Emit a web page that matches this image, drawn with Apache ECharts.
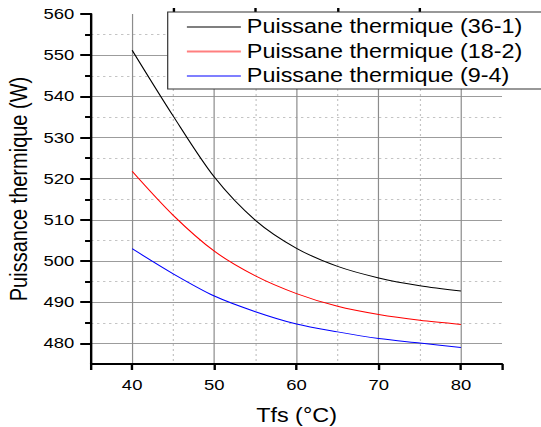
<!DOCTYPE html>
<html>
<head>
<meta charset="utf-8">
<script src="https://cdn.jsdelivr.net/npm/echarts@6/dist/echarts.min.js"></script>
<style>
  html, body { margin: 0; padding: 0; background: #fff; overflow: hidden; }
  /* the figure is drawn narrower and widened horizontally */
  #chart { width: 451px; height: 427px; transform: scaleX(1.19956); transform-origin: 0 0; }
</style>
</head>
<body>
<div id="chart"></div>
<script>
// Fluid temperature (°C)
const tfs = [40, 45, 50, 55, 60, 65, 70, 75, 80];
// Thermal power (W) for each configuration
const p36_1 = [551.2, 535.2, 520.4, 509.9, 503.1, 498.7, 495.9, 494.0, 492.7];
const p18_2 = [521.8, 511.1, 502.4, 496.4, 492.1, 489.0, 487.0, 485.6, 484.6];
const p9_4  = [503.0, 496.9, 491.5, 487.7, 484.7, 482.8, 481.2, 480.1, 479.0];
const seriesNames = ['Puissane thermique (36-1)', 'Puissane thermique (18-2)', 'Puissane thermique (9-4)'];
const seriesColors = ['#000000', '#ff0000', '#0000ff'];

// Tick positions
const xMajor = [35, 40, 50, 60, 70, 80, 85];
const xMinor = [45, 55, 65, 75];
const xLabels = [40, 50, 60, 70, 80];
const yMajor = [480, 490, 500, 510, 520, 530, 540, 550, 560];
const yMinor = [485, 495, 505, 515, 525, 535, 545, 555];

const FONT = '"Liberation Sans", Arial, sans-serif';

const chart = echarts.init(document.getElementById('chart'), null, { renderer: 'svg' });

const xBase = { type: 'value', min: 35, max: 85, gridIndex: 0 };
const yBase = { type: 'value', min: 475, max: 560, gridIndex: 0 };

chart.setOption({
  animation: false,
  backgroundColor: '#ffffff',
  textStyle: { fontFamily: FONT },
  grid: { left: 75.9, right: 32.5, top: 14, bottom: 63, containLabel: false, outerBoundsMode: 'none' },
  legend: {
    orient: 'vertical',
    left: 139.8,
    top: 12,
    padding: [5, 24, 3, 16],
    itemGap: 4.5,
    itemWidth: 45,
    itemHeight: 2,
    icon: 'rect',
    itemStyle: { opacity: 0.5 },
    backgroundColor: '#ffffff',
    borderColor: '#333333',
    borderWidth: 1,
    textStyle: { fontFamily: FONT, fontSize: 19.5, color: '#000' },
    data: seriesNames
  },
  xAxis: [
    Object.assign({}, xBase, {
      name: 'Tfs (°C)',
      nameLocation: 'middle',
      nameGap: 42,
      nameTextStyle: { fontFamily: FONT, fontSize: 19.5, color: '#000' },
      axisLine: { show: true, onZero: false, lineStyle: { color: '#000', width: 2 } },
      axisTick: { show: true, length: 6, lineStyle: { color: '#000', width: 2 }, customValues: xMajor },
      axisLabel: { show: true, margin: 14, fontFamily: FONT, fontSize: 15.4, color: '#000', customValues: xLabels },
      splitLine: { show: true, showMinLine: false, showMaxLine: false, lineStyle: { color: '#8c8c8c', width: 1 } }
    }),
    Object.assign({}, xBase, {
      axisLine: { show: false, onZero: false },
      axisTick: { show: true, length: 6, lineStyle: { color: '#000', width: 2 }, customValues: xMinor },
      axisLabel: { show: false },
      splitLine: { show: true, lineStyle: { color: '#c4c4c4', width: 1, type: [2, 3] } }
    })
  ],
  yAxis: [
    Object.assign({}, yBase, {
      name: 'Puissance thermique (W)',
      nameLocation: 'middle',
      nameGap: 50,
      nameTextStyle: { fontFamily: FONT, fontSize: 20, color: '#000' },
      axisLine: { show: true, onZero: false, lineStyle: { color: '#000', width: 2 } },
      axisTick: { show: true, length: 9, lineStyle: { color: '#000', width: 2 }, customValues: yMajor },
      axisLabel: { show: true, margin: 14, fontFamily: FONT, fontSize: 15.4, color: '#000', customValues: yMajor },
      splitLine: { show: true, showMaxLine: false, lineStyle: { color: '#9c9c9c', width: 1 } }
    }),
    Object.assign({}, yBase, {
      position: 'left',
      axisLine: { show: false, onZero: false },
      axisTick: { show: true, length: 5, lineStyle: { color: '#000', width: 2 }, customValues: yMinor },
      axisLabel: { show: false },
      splitLine: { show: true, lineStyle: { color: '#c4c4c4', width: 1, type: [2, 3] } }
    })
  ],
  series: [p36_1, p18_2, p9_4].map((vals, i) => ({
    name: seriesNames[i],
    type: 'line',
    xAxisIndex: 0,
    yAxisIndex: 0,
    data: tfs.map((t, j) => [t, vals[j]]),
    smooth: 0.3,
    symbol: 'none',
    z: 5,
    lineStyle: { color: seriesColors[i], width: 1 },
    itemStyle: { color: seriesColors[i] }
  }))
});
</script>
</body>
</html>
